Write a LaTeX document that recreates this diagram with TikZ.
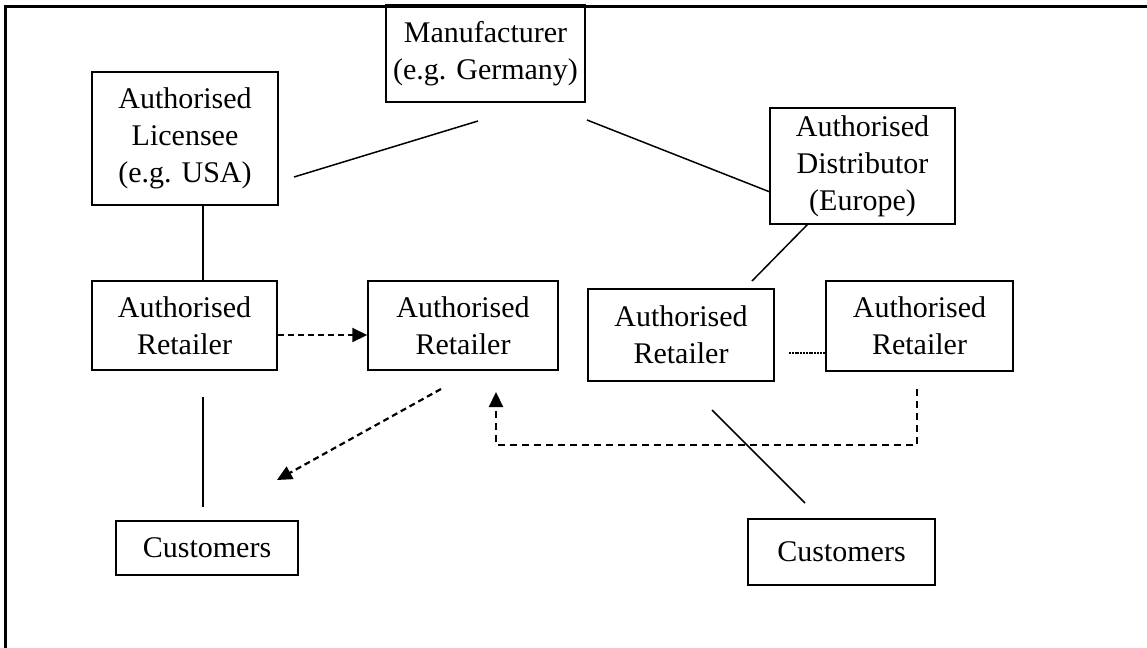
\documentclass[tikz,border=0pt]{standalone}
\usepackage{fontspec}
\setmainfont{Liberation Serif}
\usetikzlibrary{arrows.meta}
\tikzset{
  box/.style={draw, line width=0.75pt, align=center, inner sep=0pt,
    font=\fontsize{15}{18.5}\selectfont},
  link/.style={line width=0.75pt},
  dashlink/.style={line width=1.1pt, dash pattern=on 3pt off 2pt},
  longdash/.style={line width=1.1pt, dash pattern=on 3.5pt off 2.5pt},
  finedash/.style={line width=1pt, dash pattern=on 1pt off 0.4pt},
  tip/.style={-{Triangle[length=7.5pt,width=7pt]}},
}

\begin{document}
\begin{tikzpicture}[x=0.5pt, y=-0.5pt]
                \useasboundingbox (0,0) rectangle (1147,648);
                \draw[line width=1.5pt] (5.5,648) -- (5.5,6) -- (1147,6);

                \node[box, minimum width=99.5pt, minimum height=48.5pt] (maker) at (485.5,53.5) {Manufacturer\\(e.g. Germany)};
                \node[box, minimum width=93pt, minimum height=66.5pt] (licensee) at (185,138.5) {Authorised\\Licensee\\(e.g. USA)};
                \node[box, minimum width=92.5pt, minimum height=58pt] (distrib) at (862.5,166) {Authorised\\Distributor\\(Europe)};
                \node[box, minimum width=92.5pt, minimum height=44.5pt] (ret1) at (184.5,325.5) {Authorised\\Retailer};
                \node[box, minimum width=95pt, minimum height=44.5pt] (ret2) at (463,325.5) {Authorised\\Retailer};
                \node[box, minimum width=93pt, minimum height=46pt] (ret3) at (681,335) {Authorised\\Retailer};
                \node[box, minimum width=93.5pt, minimum height=45pt] (ret4) at (919.5,326) {Authorised\\Retailer};
                \node[box, minimum width=91pt, minimum height=27pt] (cust1) at (207,548) {Customers};
                \node[box, minimum width=93.5pt, minimum height=33pt] (cust2) at (841.5,552) {Customers};

                \coordinate (lm1) at (294,177);
                \coordinate (lm2) at (478,121);
                \coordinate (md1) at (587,120);
                \coordinate (md2) at (770,192);
                \coordinate (dr1) at (808,224);
                \coordinate (dr2) at (752,281);
                \coordinate (rr1) at (789,353);
                \coordinate (rc1) at (441,389);
                \coordinate (rc2) at (277,480);
                \coordinate (back1) at (917,389);
                \coordinate (back2) at (496,445);
                \coordinate (back3) at (496,392);
                \coordinate (cross1) at (712,410);
                \coordinate (cross2) at (805,503);
                \coordinate (rd1) at (203,397);
                \coordinate (rd2) at (203,507);

                \draw[link] (lm1) -- (lm2);
                \draw[link] (md1) -- (md2);
                \draw[link] (dr1) -- (dr2);
                \draw[link] ([xshift=9pt]licensee.south) -- ([xshift=9pt]licensee.south |- ret1.north);
                \draw[link] (rd1) -- (rd2);
                \draw[link] (cross1) -- (cross2);

                \draw[dashlink, tip] ([yshift=-4.75pt]ret1.east) -- ([yshift=-4.75pt]ret2.west);
                \draw[dashlink, tip] (rc1) -- (rc2);
                \draw[finedash] (rr1) -- (rr1 -| ret4.west);
                \draw[longdash, tip] (back1) |- (back2) -- (back3);
            \end{tikzpicture}
\end{document}
